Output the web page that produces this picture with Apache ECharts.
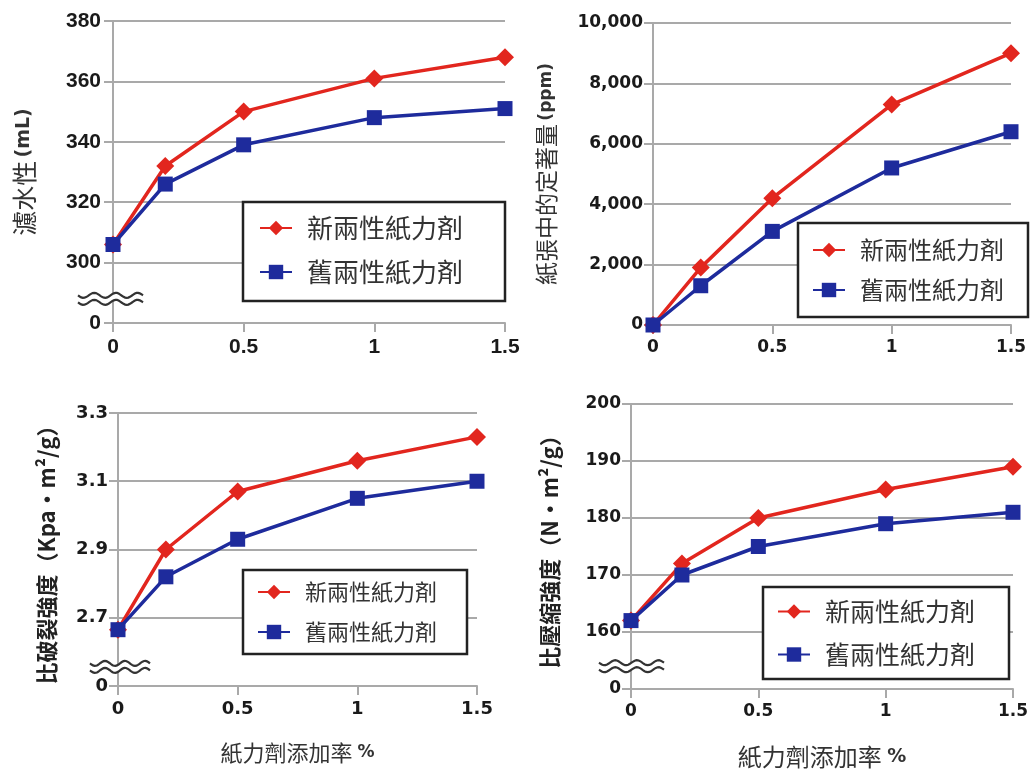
<!DOCTYPE html>
<html><head><meta charset="utf-8">
<script src="https://cdn.jsdelivr.net/npm/echarts@6/dist/echarts.min.js"></script>
<style>html,body{margin:0;padding:0;background:#fff}#c{width:1032px;height:771px}</style>
</head><body><div id="c"></div>
<script>
// ---- data ----
const xVals = [0, 0.2, 0.5, 1, 1.5];
const seriesNames = ['新兩性紙力剤', '舊兩性紙力剤'];
const drainNew = [306, 332, 350, 361, 368];
const drainOld = [306, 326, 339, 348, 351];
const fixNew = [0, 1900, 4200, 7300, 9000];
const fixOld = [0, 1300, 3100, 5200, 6400];
const burstNew = [2.665, 2.9, 3.07, 3.16, 3.23];
const burstOld = [2.665, 2.82, 2.93, 3.05, 3.10];
const compNew = [162, 172, 180, 185, 189];
const compOld = [162, 170, 175, 179, 181];
const xTicks = [0, 0.5, 1, 1.5];
const burstTicks = [2.5, 2.7, 2.9, 3.1, 3.3];
const yTitles = ['{a|濾水性} {b|(mL)}', '{a|紙張中的定著量} {b|(ppm)}', '比破裂強度（Kpa・m²/g）', '比壓縮強度（N・m²/g）'];
const xTitle = '紙力劑添加率 {b|%}';

const RED = '#e2261e', BLUE = '#1e2b9c', GRID = '#a9a9a9';
const CJK = '"Noto Sans CJK TC","Noto Sans CJK SC",sans-serif';

const grids = [
  {left: 113, top: 21, width: 392, height: 302},
  {left: 653, top: 23, width: 358, height: 302},
  {left: 118, top: 413, width: 359, height: 273},
  {left: 631, top: 404, width: 382, height: 285}
];
const tickFonts = [
  {fontFamily: '"Liberation Sans",sans-serif', fontSize: 21},
  {fontFamily: '"DejaVu Sans",sans-serif', fontSize: 17},
  {fontFamily: '"DejaVu Sans",sans-serif', fontSize: 18},
  {fontFamily: '"DejaVu Sans",sans-serif', fontSize: 17}
];

function pairs(ys) { return xVals.map((x, i) => [x, ys[i]]); }

const xAxes = grids.map((g, i) => ({
  type: 'value', gridIndex: i, min: 0, max: 1.5, interval: 0.5,
  axisLine: {show: true, lineStyle: {color: GRID, width: 2}},
  axisTick: {show: true, length: 9, lineStyle: {color: GRID, width: 2}},
  splitLine: {show: false},
  axisLabel: Object.assign({color: '#1a1a1a', fontWeight: 'bold', margin: 14,
    formatter: v => String(v)}, tickFonts[i]),
  name: i >= 2 ? xTitle : '',
  nameLocation: 'middle', nameGap: 56,
  nameTextStyle: {fontFamily: CJK, fontSize: i === 2 ? 22 : 24, color: '#333',
    rich: {b: {fontFamily: '"DejaVu Sans",sans-serif', fontWeight: 'bold', fontSize: i === 2 ? 17 : 19, color: '#333'}}}
}));

const yBase = {
  type: 'value',
  axisLine: {show: true, lineStyle: {color: GRID, width: 2}},
  axisTick: {show: true, length: 9, lineStyle: {color: GRID, width: 2}},
  splitLine: {show: true, lineStyle: {color: GRID, width: 2}},
  nameLocation: 'middle', nameRotate: 90
};
const yAxes = [
  Object.assign({}, yBase, {gridIndex: 0, min: 280, max: 380, interval: 20,
    axisLabel: Object.assign({color: '#1a1a1a', fontWeight: 'bold', margin: 12,
      formatter: v => v === 280 ? '0' : String(v)}, tickFonts[0]),
    name: yTitles[0], nameGap: 76,
    nameTextStyle: {rich: {a: {fontFamily: CJK, fontSize: 25, color: '#333'},
      b: {fontFamily: '"DejaVu Sans",sans-serif', fontWeight: 'bold', fontSize: 19, color: '#333'}}}}),
  Object.assign({}, yBase, {gridIndex: 1, min: 0, max: 10000, interval: 2000,
    axisLabel: Object.assign({color: '#1a1a1a', fontWeight: 'bold', margin: 10,
      formatter: v => v.toLocaleString('en-US')}, tickFonts[1]),
    name: yTitles[1], nameGap: 95,
    nameTextStyle: {rich: {a: {fontFamily: CJK, fontSize: 23, color: '#333'},
      b: {fontFamily: '"DejaVu Sans",sans-serif', fontWeight: 'bold', fontSize: 17, color: '#333'}}}}),
  Object.assign({}, yBase, {gridIndex: 2, min: 2.5, max: 3.3,
    axisTick: {show: true, length: 9, customValues: burstTicks, lineStyle: {color: GRID, width: 2}},
    splitLine: {show: true, customValues: burstTicks, lineStyle: {color: GRID, width: 2}},
    axisLabel: Object.assign({color: '#1a1a1a', fontWeight: 'bold', margin: 10, customValues: burstTicks,
      formatter: v => Math.abs(v - 2.5) < 1e-9 ? '0' : v.toFixed(1)}, tickFonts[2]),
    name: yTitles[2], nameGap: 60,
    nameTextStyle: {fontFamily: CJK, fontWeight: 'bold', fontSize: 22, color: '#222'}}),
  Object.assign({}, yBase, {gridIndex: 3, min: 150, max: 200, interval: 10,
    axisLabel: Object.assign({color: '#1a1a1a', fontWeight: 'bold', margin: 10,
      formatter: v => v === 150 ? '0' : String(v)}, tickFonts[3]),
    name: yTitles[3], nameGap: 70,
    nameTextStyle: {fontFamily: CJK, fontWeight: 'bold', fontSize: 22, color: '#222'}})
];

const dataSets = [[drainNew, drainOld], [fixNew, fixOld], [burstNew, burstOld], [compNew, compOld]];
const series = [];
dataSets.forEach((pair, i) => {
  series.push({type: 'line', name: seriesNames[0], xAxisIndex: i, yAxisIndex: i, data: pairs(pair[0]),
    symbol: 'diamond', symbolSize: 18, lineStyle: {color: RED, width: 3.5}, itemStyle: {color: RED},
    color: RED, z: 3, animation: false});
  series.push({type: 'line', name: seriesNames[1], xAxisIndex: i, yAxisIndex: i, data: pairs(pair[1]),
    symbol: 'rect', symbolSize: 15, lineStyle: {color: BLUE, width: 3.5}, itemStyle: {color: BLUE},
    color: BLUE, z: 4, animation: false});
});

const legendCfg = [
  {left: 243, top: 202, fs: 26, pad: [12, 42, 15, 16], gap: 16},
  {left: 798, top: 223, fs: 24, pad: [14, 24, 14, 14], gap: 14},
  {left: 243, top: 570, fs: 22, pad: [10, 30, 10, 14], gap: 16},
  {left: 763, top: 587, fs: 25, pad: [11, 34, 11, 14], gap: 16}
];
const legends = legendCfg.map(c => ({
  left: c.left, top: c.top, orient: 'vertical', data: seriesNames,
  backgroundColor: '#fff', borderColor: '#222', borderWidth: 2.5, borderRadius: 0,
  padding: c.pad, itemGap: c.gap, itemWidth: 32, itemHeight: 18,
  selectedMode: false,
  textStyle: {fontFamily: CJK, fontSize: c.fs, color: '#333', lineHeight: c.fs + 2, padding: [0, 0, 0, 10]}
}));

const chart = echarts.init(document.getElementById('c'), null, {renderer: 'canvas'});
chart.setOption({
  animation: false,
  backgroundColor: '#fff',
  grid: grids,
  xAxis: xAxes,
  yAxis: yAxes,
  legend: legends,
  series: series
});

// broken-axis squiggles
const breaks = [
  {grid: 0, val: 288, dl: 35, dr: 30},
  {grid: 2, val: 2.556, dl: 28, dr: 32},
  {grid: 3, val: 154, dl: 32, dr: 33}
];
const graphics = [];
breaks.forEach(b => {
  const p = chart.convertToPixel({gridIndex: b.grid}, [0, b.val]);
  const x0 = p[0] - b.dl, x1 = p[0] + b.dr, yc = p[1];
  const N = 40, sep = 3.5, amp = 2.5, waves = 3;
  const top = [], bot = [];
  for (let k = 0; k <= N; k++) {
    const x = x0 + (x1 - x0) * k / N;
    const s = amp * Math.sin(k / N * waves * 2 * Math.PI);
    top.push([x, yc - sep + s]);
    bot.push([x, yc + sep + s]);
  }
  graphics.push({type: 'polygon', shape: {points: top.concat(bot.slice().reverse())},
    style: {fill: '#fff'}, z: 100});
  graphics.push({type: 'polyline', shape: {points: top}, style: {stroke: '#333', lineWidth: 2.2, fill: null}, z: 101});
  graphics.push({type: 'polyline', shape: {points: bot}, style: {stroke: '#333', lineWidth: 2.2, fill: null}, z: 101});
});
chart.setOption({graphic: graphics});
</script>
</body></html>
